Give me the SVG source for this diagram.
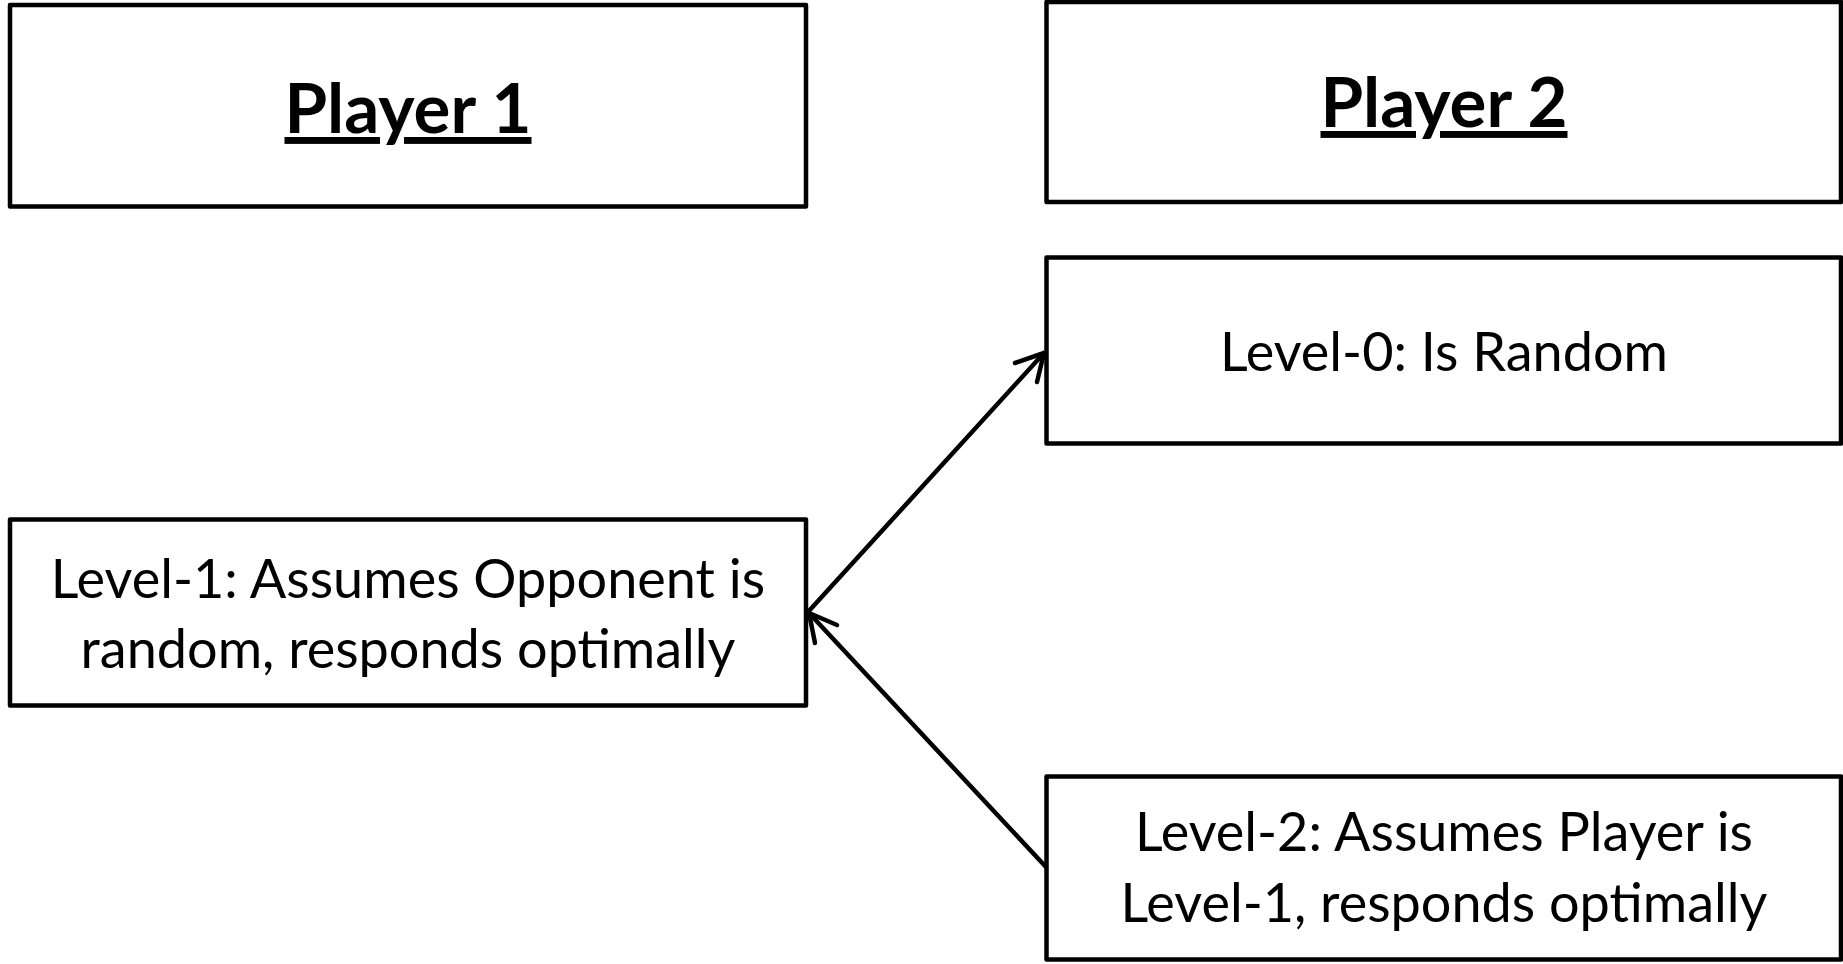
<svg xmlns="http://www.w3.org/2000/svg" width="1843" height="964" viewBox="0 0 1843 964">
<style>
.box{fill:#fff;stroke:#000;stroke-width:4.5;stroke-linejoin:round}
.t{font-family:Lato,"Open Sans","Liberation Sans",sans-serif;font-size:54px;fill:#000;text-anchor:middle}
.h{font-family:Lato,"Open Sans","Liberation Sans",sans-serif;font-size:69px;font-weight:bold;fill:#000;text-anchor:middle;text-decoration:underline}
.c{fill:none;stroke:#000;stroke-width:4.5;stroke-linecap:round;stroke-linejoin:round}
</style>
<rect width="1843" height="964" fill="#fff"/>
<g id="player1">
<rect class="box" x="10" y="5" width="796" height="201.5"/>
<text class="h" x="408" y="133">Player 1</text>
</g>
<g id="player2">
<rect class="box" x="1046.5" y="2" width="794.5" height="200"/>
<text class="h" x="1444" y="127">Player 2</text>
</g>
<g id="level0">
<rect class="box" x="1046.5" y="257.5" width="794.5" height="186"/>
<text class="t" x="1444" y="371">Level-0: Is Random</text>
</g>
<g id="level1">
<rect class="box" x="10" y="519.5" width="796" height="186"/>
<text class="t" x="408" y="598">Level-1: Assumes Opponent is</text>
<text class="t" x="408" y="668">random, responds optimally</text>
</g>
<g id="level2">
<rect class="box" x="1046.5" y="776.5" width="794.5" height="183"/>
<text class="t" x="1444" y="851">Level-2: Assumes Player is</text>
<text class="t" x="1444" y="922">Level-1, responds optimally</text>
</g>
<g id="connectors">
<path class="c" d="M808,612 L1044,353"/>
<path class="c" d="M1015,363 L1044,353 L1037,382"/>
<path class="c" d="M1046,867 L809,613"/>
<path class="c" d="M837,625 L809,613 L815,643"/>
</g>
</svg>
